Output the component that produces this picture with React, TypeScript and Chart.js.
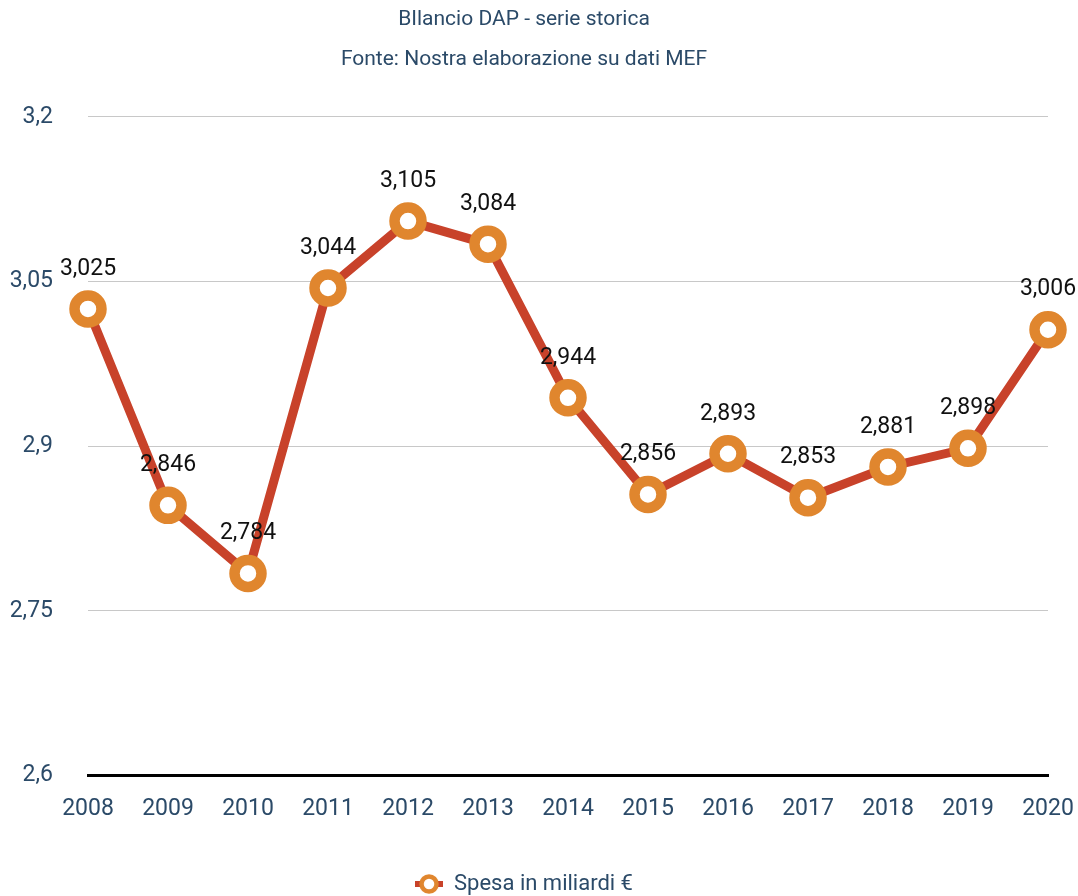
import React, { useEffect, useRef } from "react";
import { Chart, registerables } from "chart.js";

Chart.register(...registerables);

const years = ["2008", "2009", "2010", "2011", "2012", "2013", "2014", "2015", "2016", "2017", "2018", "2019", "2020"];
const spesa = [3.025, 2.846, 2.784, 3.044, 3.105, 3.084, 2.944, 2.856, 2.893, 2.853, 2.881, 2.898, 3.006];
const yTickLabels = ["2,6", "2,75", "2,9", "3,05", "3,2"];
const titleLines = ["BIlancio DAP - serie storica", "Fonte: Nostra elaborazione su dati MEF"];
const seriesName = "Spesa in miliardi €";

const FONT = "Roboto, 'Liberation Sans Narrow', sans-serif";
const BLUE = "#2b4a68";
const RED = "#c8422a";
const ORANGE = "#e0862e";

function makeLegendIcon(): HTMLCanvasElement {
  const c = document.createElement("canvas");
  c.width = 28;
  c.height = 22;
  const g = c.getContext("2d")!;
  g.fillStyle = RED;
  g.fillRect(0, 8, 28, 6);
  g.beginPath();
  g.arc(14, 11, 7.5, 0, Math.PI * 2);
  g.fillStyle = "#ffffff";
  g.fill();
  g.lineWidth = 4.5;
  g.strokeStyle = ORANGE;
  g.stroke();
  return c;
}

const dataLabelPlugin = {
  id: "dataLabels",
  afterDatasetsDraw(chart: any) {
    const ctx = chart.ctx;
    const meta = chart.getDatasetMeta(0);
    ctx.save();
    ctx.font = `23px ${FONT}`;
    ctx.fillStyle = "#111111";
    ctx.textAlign = "center";
    ctx.textBaseline = "middle";
    meta.data.forEach((pt: any, i: number) => {
      const v = spesa[i].toFixed(3).replace(".", ",");
      ctx.fillText(v, pt.x, pt.y - 40);
    });
    ctx.restore();
  },
};

export default function App() {
  const ref = useRef<HTMLCanvasElement>(null);
  useEffect(() => {
    if (!ref.current) return;
    const icon = makeLegendIcon();
    const chart = new Chart(ref.current, {
      type: "line",
      data: {
        labels: years,
        datasets: [
          {
            label: seriesName,
            data: spesa,
            borderColor: RED,
            borderWidth: 9,
            backgroundColor: "#ffffff",
            pointBackgroundColor: "#ffffff",
            pointBorderColor: ORANGE,
            pointBorderWidth: 10.5,
            pointRadius: 13.5,
            pointHoverRadius: 13.5,
            tension: 0,
            clip: false as any,
          },
        ],
      },
      options: {
        responsive: true,
        maintainAspectRatio: false,
        animation: false,
        layout: { padding: { left: 0, right: 30, top: 0, bottom: -9 } },
        plugins: {
          title: {
            display: true,
            text: titleLines,
            color: BLUE,
            font: { family: FONT, size: 21, weight: "normal", lineHeight: 1.9 },
            padding: { top: 0, bottom: 37 },
          },
          legend: {
            display: true,
            position: "bottom",
            labels: {
              color: BLUE,
              font: { family: FONT, size: 22 },
              usePointStyle: true,
              pointStyleWidth: 28,
              padding: 3,
              generateLabels: () => [
                {
                  text: seriesName,
                  pointStyle: icon as any,
                  fillStyle: "#ffffff",
                  strokeStyle: ORANGE,
                  lineWidth: 4,
                  fontColor: BLUE,
                  hidden: false,
                  datasetIndex: 0,
                } as any,
              ],
            },
          },
          tooltip: { enabled: false },
        },
        scales: {
          x: {
            offset: false,
            afterFit: (s: any) => {
              s.paddingLeft = 0;
              s.paddingRight = 0;
              s.height += 27;
            },
            grid: { display: false, drawTicks: false },
            border: { display: true, color: "#000000", width: 3 },
            ticks: { color: BLUE, font: { family: FONT, size: 23 }, padding: 20, maxRotation: 0, autoSkip: false },
          },
          y: {
            min: 2.6,
            max: 3.2,
            afterFit: (s: any) => {
              s.width = 88;
            },
            ticks: {
              stepSize: 0.15,
              color: BLUE,
              font: { family: FONT, size: 23 },
              padding: 35,
              callback: (_v: any, i: number) => yTickLabels[i],
            },
            grid: { color: "#c8c8c8", lineWidth: 1, drawTicks: false },
            border: { display: false },
          },
        },
      },
      plugins: [dataLabelPlugin],
    });
    return () => chart.destroy();
  }, []);
  return (
    <div style={{ position: "fixed", left: 0, top: 0, width: 1078, height: 896, background: "#fff" }}>
      <canvas ref={ref} />
    </div>
  );
}
